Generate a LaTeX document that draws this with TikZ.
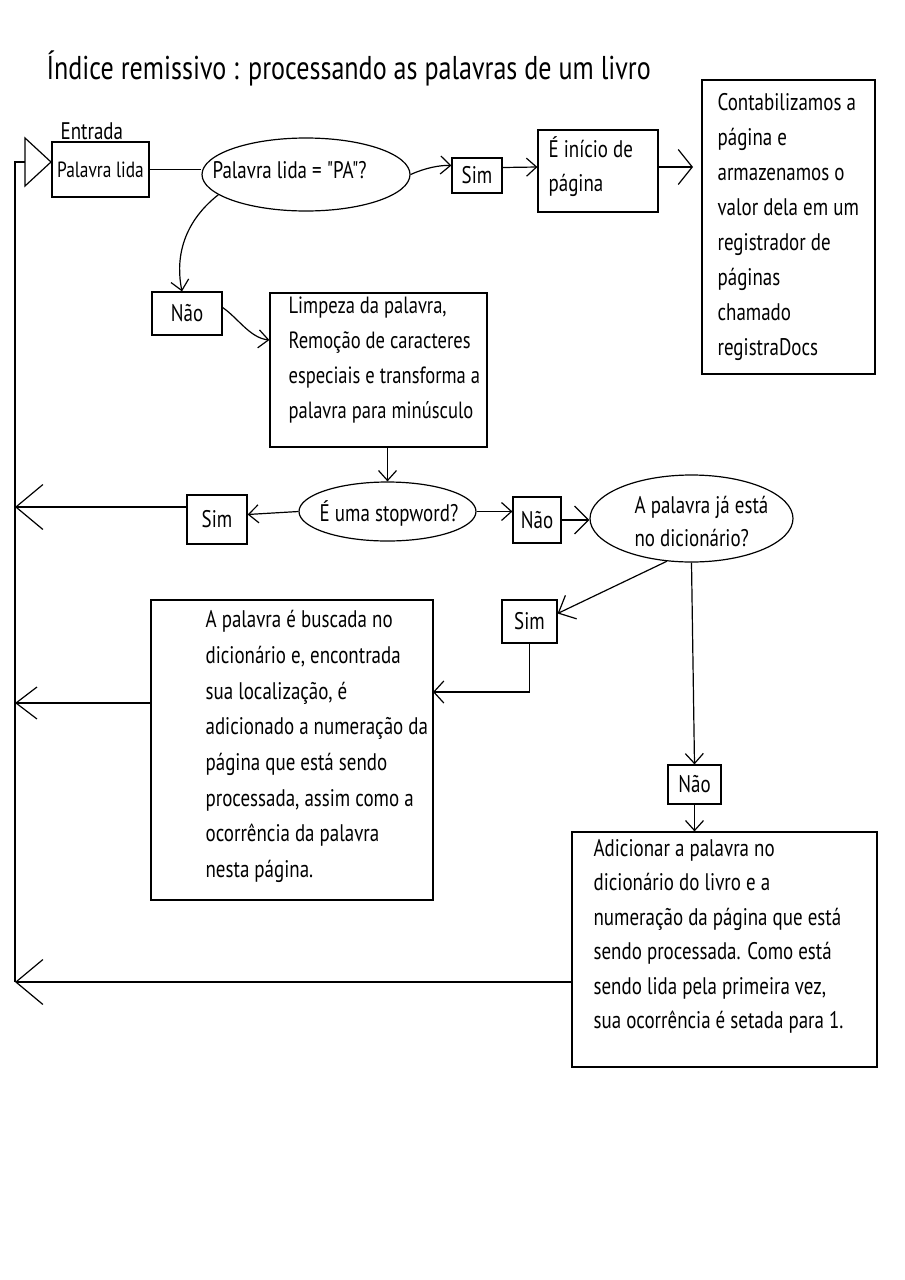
\documentclass[tikz,border=0pt]{standalone}
\usepackage{fontspec}
\setmainfont{PT Sans}[FakeStretch=0.79,Ligatures=TeXOff]
\usetikzlibrary{arrows.meta,shapes.geometric}
\begin{document}
\begin{tikzpicture}[x=1pt,y=-1pt,line width=1.2pt,
  body/.style={font=\fontsize{24}{35}\selectfont},
  box/.style={draw,rectangle,inner sep=0pt,body},
  oval/.style={draw,ellipse,inner sep=0pt},
  txt/.style={body,align=left,anchor=north west,inner sep=0pt},
  arr/.style={-{Straight Barb[length=10pt,width=18pt]}},
  smarr/.style={-{Straight Barb[length=10pt,width=22pt]}},
  simarr/.style={-{Straight Barb[length=14pt,width=26pt]}},
  dicarr/.style={-{Straight Barb[length=14pt,width=28pt]}},
  midarr/.style={-{Straight Barb[length=14pt,width=35pt]}},
  medarr/.style={-{Straight Barb[length=21pt,width=32pt]}},
  bigarr/.style={-{Straight Barb[length=27pt,width=45pt]}},
]
\fill[white] (0,0) rectangle (905,1280);
\useasboundingbox (0,0) rectangle (905,1280);

% title and label
\node[font=\fontsize{33}{38}\selectfont,anchor=base west,inner sep=0pt] (title) at (46,79) {Índice remissivo : processando as palavras de um livro};
\node[body,anchor=base west,inner sep=0pt] (entr) at (60,139) {Entrada};

% top row
\node[box,font=\fontsize{22}{30}\selectfont,minimum width=97pt,minimum height=55pt] (pl) at (100.5,169.5) {Palavra lida};
\node[oval,minimum width=208pt,minimum height=73pt] (pa) at (306,174.5) {};
\node[body,anchor=base west,inner sep=0pt] (patxt) at (212,178) {Palavra lida = "PA"?};
\node[box,minimum width=50pt,minimum height=35pt] (sim1) at (477,175.5) {Sim};
\node[box,minimum width=120pt,minimum height=82pt] (ini) at (598,171) {};
\node[txt,font=\fontsize{24}{34}\selectfont] (initxt) at (548,133.2) {\strut É início de\\página};
\node[box,minimum width=173pt,minimum height=294pt] (cont) at (788.5,227) {};
\node[txt] (conttxt) at (717,85.5) {\strut Contabilizamos a\\página e\\armazenamos o\\valor dela em um\\registrador de\\páginas\\chamado\\registraDocs};

% second row
\node[box,minimum width=70pt,minimum height=43pt] (nao1) at (187,313.5) {Não};
\node[box,minimum width=217pt,minimum height=154pt] (limp) at (378.5,370) {};
\node[txt,font=\fontsize{23.5}{35}\selectfont] (limptxt) at (288,288.5) {\strut Limpeza da palavra,\\Remoção de caracteres\\especiais e transforma a\\palavra para minúsculo};

% third row
\node[oval,minimum width=177pt,minimum height=59pt] (stop) at (387.5,511.5) {};
\node[body,anchor=base,inner sep=0pt] (stoptxt) at (389,521) {É uma stopword?};
\node[box,minimum width=60pt,minimum height=49pt] (sim2) at (217,519.5) {Sim};
\node[box,minimum width=48pt,minimum height=46pt] (nao2) at (537,520) {Não};
\node[oval,minimum width=203pt,minimum height=87pt] (dic) at (691.5,518.5) {};
\node[txt,font=\fontsize{24}{33}\selectfont] (dictxt) at (634,489.9) {\strut A palavra já está\\no dicionário?};

% lower part
\node[box,minimum width=55pt,minimum height=43pt] (sim3) at (529.5,621.5) {Sim};
\node[box,minimum width=282pt,minimum height=300pt] (busc) at (292,750) {};
\node[txt,font=\fontsize{24}{35.7}\selectfont] (busctxt) at (205,602) {\strut A palavra é buscada no\\dicionário e, encontrada\\sua localização, é\\adicionado a numeração da\\página que está sendo\\processada, assim como a\\ocorrência da palavra\\nesta página.};
\node[box,minimum width=53pt,minimum height=39pt] (nao3) at (694.5,784.5) {Não};
\node[box,minimum width=305pt,minimum height=235pt] (adic) at (724.5,949.5) {};
\node[txt,font=\fontsize{24}{34.4}\selectfont] (adictxt) at (593,831.9) {\strut Adicionar a palavra no\\dicionário do livro e a\\numeração da página que está\\sendo processada. Como está\\sendo lida pela primeira vez,\\sua ocorrência é setada para 1.};

% helper coordinates
\coordinate (tri) at (25,162);
\coordinate (tritop) at (25,138);
\coordinate (triapex) at (51,162);
\coordinate (tribot) at (25,186);
\coordinate (tl) at (15,162);
\coordinate (s2l) at (187,507);
\coordinate (r1) at (15,507);
\coordinate (bl) at (151,703);
\coordinate (r2) at (15,703);
\coordinate (al) at (572,982);
\coordinate (r3) at (15,982);
\coordinate (bin) at (433,692);
\coordinate (cw) at (693,167);

% input triangle and loop line
\draw[line join=miter] (tritop) -- (triapex) -- (tribot) -- cycle;
\draw (r3) -- (tl) -- (tri);

% connectors
\draw (pl.east) -- (pl.east -| pa.west);
\draw[arr] (pa.east) .. controls (425,168) and (440,165) .. ([yshift=10pt]sim1.west);
\draw[arr] ([yshift=8pt]sim1.east) -- ([yshift=4pt]ini.west);
\draw[midarr] ([yshift=4pt]ini.east) -- (cw);
\draw[arr] (pa.193) .. controls (180,225) and (176,262) .. ([xshift=-5pt]nao1.north);
\draw[arr] ([yshift=6pt]nao1.east) .. controls (238,318) and (250,338) .. ([yshift=30pt]limp.west);
\draw[arr] (limp.south -| stop.north) -- (stop.north);
\draw[arr] (stop.west) -- ([yshift=5pt]sim2.east);
\draw[bigarr] (s2l) -- (r1);
\draw[arr] (stop.east) -- (stop.east -| nao2.west);
\draw[dicarr] (nao2.east) -- (nao2.east -| dic.west);
\draw[simarr] (dic.240.6) -- ([yshift=8pt]sim3.east);
\draw[arr] (dic.south) -- (nao3.north);
\draw[arr] (nao3.south) -- (nao3.south |- adic.north);
\draw[smarr] (sim3.south) |- (bin);
\draw[medarr] (bl) -- (r2);
\draw[bigarr] (al) -- (r3);
\end{tikzpicture}
\end{document}
